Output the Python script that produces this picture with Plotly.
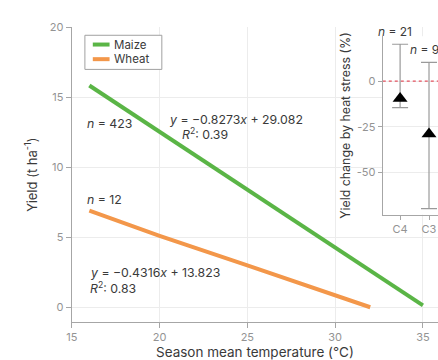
import plotly.graph_objects as go

# ---- data ----
maize_x = [16, 35]
maize_y = [15.85, 0.13]
wheat_x = [16, 20, 25, 30, 32]
wheat_y = [6.9, 5.1, 3.0, 0.9, 0.0]
series_names = ["Maize", "Wheat"]

inset_cats = ["C4", "C3"]
inset_mean = [-9.5, -29.0]
inset_hi = [20.2, 10.3]
inset_lo = [-14.6, -70.0]
inset_n = ["<i>n</i> = 21", "<i>n</i> = 9"]

x_ticks = [15, 20, 25, 30, 35]
y_ticks = [0, 5, 10, 15, 20]
inset_ticks = [0, -25, -50]

W, H = 438, 360
FONT = "Inter, Lato, sans-serif"
GREEN = "#5ab546"
ORANGE = "#f3974a"
TICK = "#939393"
AXIS = "#a6a6a6"
GRID = "#ececec"
TXT = "#3a3a3a"
colors = [GREEN, ORANGE]

def px(x):
    return x / W

def py(y):
    return 1 - y / H

fig = go.Figure()
fig.add_trace(go.Scatter(x=maize_x, y=maize_y, mode="lines", name=series_names[0],
                         line=dict(color=GREEN, width=4), showlegend=False))
fig.add_trace(go.Scatter(x=wheat_x, y=wheat_y, mode="lines", name=series_names[1],
                         line=dict(color=ORANGE, width=4), showlegend=False))

# inset
fig.add_trace(go.Scatter(
    x=[-0.6, 1.4], y=[0, 0], mode="lines", showlegend=False,
    line=dict(color="#e4505e", width=1.4, dash="3px,3px"), xaxis="x2", yaxis="y2"))
fig.add_trace(go.Scatter(
    x=list(range(len(inset_cats))), y=inset_mean, mode="markers", showlegend=False,
    marker=dict(symbol="triangle-up", size=13, color="black"),
    error_y=dict(type="data", symmetric=False,
                 array=[h - m for h, m in zip(inset_hi, inset_mean)],
                 arrayminus=[m - l for l, m in zip(inset_lo, inset_mean)],
                 color="#9a9a9a", thickness=1.2, width=8),
    xaxis="x2", yaxis="y2"))

tickfont = dict(family=FONT, size=11, color=TICK)
fig.update_layout(
    width=W, height=H, margin=dict(l=0, r=0, t=0, b=0),
    paper_bgcolor="white", plot_bgcolor="white",
    font=dict(family=FONT, color=TXT),
    showlegend=False,
    xaxis=dict(domain=[px(66.7), 1], range=[15, 15 + (W - 66.7) / 17.8],
               tickvals=x_ticks, ticks="outside", ticklen=5, tickcolor=AXIS,
               showline=True, linecolor=AXIS, linewidth=1.2, showgrid=True,
               gridcolor=GRID, zeroline=False, tickfont=tickfont,
               title=dict(text="Season mean temperature (°C)",
                          font=dict(family=FONT, size=13.5, color=TXT), standoff=6)),
    yaxis=dict(domain=[py(323), py(21)], range=[-1.05, 20],
               tickvals=y_ticks, ticks="outside", ticklen=5, tickcolor=AXIS,
               showline=True, linecolor=AXIS, linewidth=1.2, showgrid=True,
               gridcolor=GRID, zeroline=False, tickfont=tickfont,
               title=dict(text="Yield (t ha<sup>-1</sup>)",
                          font=dict(family=FONT, size=13, color=TXT), standoff=9)),
    xaxis2=dict(domain=[px(382), 1], range=[-0.6, -0.6 + (W - 382) / 29.3],
                anchor="y2", tickvals=[0, 1], ticktext=inset_cats,
                ticks="outside", ticklen=4, tickcolor=AXIS,
                showline=True, linecolor=AXIS, linewidth=1.2, showgrid=False,
                zeroline=False, tickfont=tickfont),
    yaxis2=dict(domain=[py(213), py(30)], range=[-73.3, 24.6], anchor="x2",
                tickvals=inset_ticks, ticktext=["0", "-25", "-50"],
                ticks="outside", ticklen=4, tickcolor=AXIS,
                showline=True, linecolor=AXIS, linewidth=1.2, showgrid=True,
                gridcolor=GRID, zeroline=False, tickfont=tickfont,
                title=dict(text="Yield change by heat stress (%)",
                           font=dict(family=FONT, size=12.4, color=TXT), standoff=3)),
)

# compact legend box (matches the reference's small legend)
fig.add_shape(type="rect", xref="paper", yref="paper",
              x0=px(80), x1=px(158), y0=py(64), y1=py(29),
              line=dict(color="#a0a0a0", width=1), fillcolor="white", layer="above")
for i, (name, c) in enumerate(zip(series_names, colors)):
    yy = 38.5 + 15 * i
    fig.add_shape(type="line", xref="paper", yref="paper",
                  x0=px(88), x1=px(105), y0=py(yy), y1=py(yy),
                  line=dict(color=c, width=4), layer="above")
    fig.add_annotation(text=name, x=px(108), y=py(yy), xref="paper", yref="paper",
                       xanchor="left", yanchor="middle", showarrow=False, borderpad=0,
                       font=dict(family=FONT, size=11.5, color=TXT))

ann = dict(font=dict(family=FONT, size=12.3, color=TXT), showarrow=False,
           xref="paper", yref="paper", xanchor="left", yanchor="middle")
notes = [
    ("<i>n</i> = 423", 80, 120),
    ("<i>y</i> = −0.8273<i>x</i> + 29.082", 163, 115),
    ("<i>R</i><sup>2</sup>: 0.39", 176, 130),
    ("<i>n</i> = 12", 80, 197),
    ("<i>y</i> = −0.4316<i>x</i> + 13.823", 83, 272),
    ("<i>R</i><sup>2</sup>: 0.83", 83, 288),
]
for t, x, y in notes:
    fig.add_annotation(text=t, x=px(x), y=py(y), **ann)

for i, t in enumerate(inset_n):
    fig.add_annotation(text=t, x=i, y=inset_hi[i], xref="x2", yref="y2",
                       yanchor="bottom", yshift=3, xshift=-5, showarrow=False,
                       font=dict(family=FONT, size=12, color=TXT))

fig.write_html("out.html")
